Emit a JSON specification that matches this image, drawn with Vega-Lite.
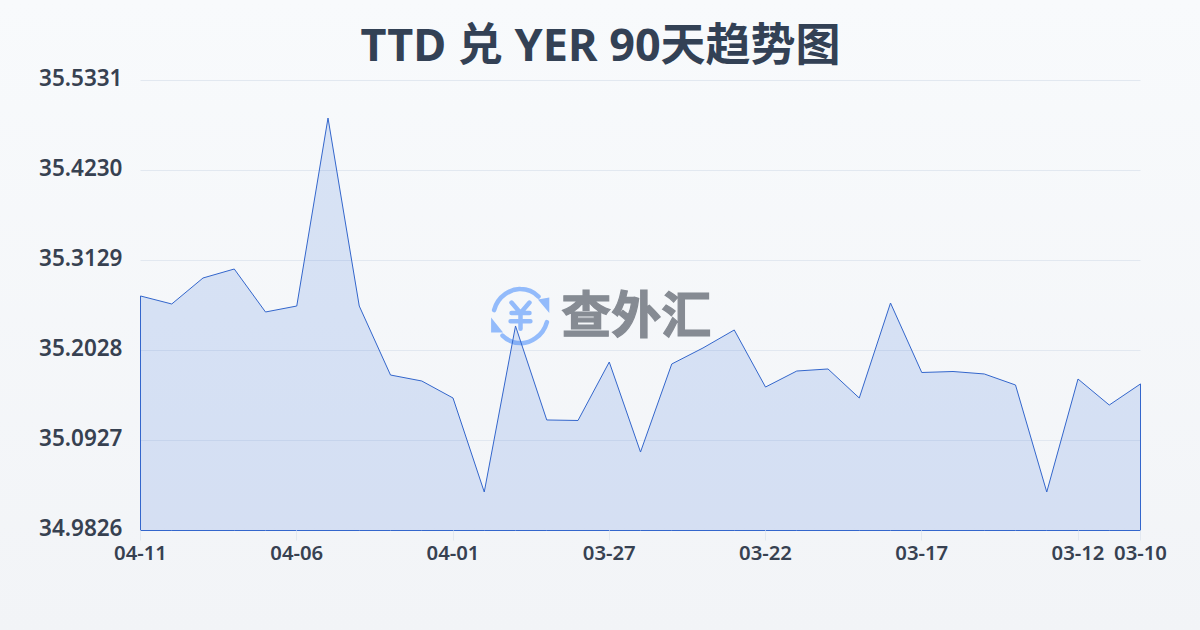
{
"$schema":"https://vega.github.io/schema/vega-lite/v6.json",
"width":1000,"height":450,
"autosize":{"type":"none"},
"padding":{"left":140.5,"top":80.5,"right":59.5,"bottom":99.5},
"background":"#f5f7fa",
"title":{"text":"TTD 兑 YER 90天趋势图","anchor":"middle","fontSize":45,"fontWeight":"bold","font":"Noto Sans, Noto Sans CJK SC","color":"#334155","offset":-404,"dx":-40},
"config":{"view":{"stroke":null},"axis":{"translate":0}},
"datasets":{"rates":[
{"date":"04-11","rate":35.2695},{"date":"04-10","rate":35.2597},{"date":"04-09","rate":35.2915},{"date":"04-08","rate":35.3025},{"date":"04-07","rate":35.2499},{"date":"04-06","rate":35.2572},{"date":"04-05","rate":35.4872},{"date":"04-04","rate":35.2572},{"date":"04-03","rate":35.1728},{"date":"04-02","rate":35.1655},{"date":"04-01","rate":35.1447},{"date":"03-31","rate":35.0297},{"date":"03-30","rate":35.2328},{"date":"03-29","rate":35.1178},{"date":"03-28","rate":35.1172},{"date":"03-27","rate":35.1887},{"date":"03-26","rate":35.0786},{"date":"03-25","rate":35.1863},{"date":"03-24","rate":35.2059},{"date":"03-23","rate":35.2279},{"date":"03-22","rate":35.1581},{"date":"03-21","rate":35.1777},{"date":"03-20","rate":35.1802},{"date":"03-19","rate":35.1447},{"date":"03-18","rate":35.2609},{"date":"03-17","rate":35.1759},{"date":"03-16","rate":35.1771},{"date":"03-15","rate":35.1741},{"date":"03-14","rate":35.1606},{"date":"03-13","rate":35.0297},{"date":"03-12","rate":35.1679},{"date":"03-11","rate":35.1361},{"date":"03-10","rate":35.1619}
],
"marks":[{"d":"03-27","v":35.2449,"t":"查外汇"}],
"logo":[{"d":"03-30","v":35.2449}],
"grid":[{"g":35.0927},{"g":35.2028},{"g":35.3129},{"g":35.423},{"g":35.5331},{"g":34.9826}]
},
"layer":[
{"data":{"name":"marks"},
 "mark":{"type":"point","shape":"square","filled":true,"opacity":1,"size":1690000,"xOffset":-9,"yOffset":0,"clip":false,
  "fill":{"gradient":"linear","x1":0,"y1":0,"x2":0,"y2":1,"stops":[{"offset":0.258,"color":"#f8fafc"},{"offset":0.742,"color":"#f2f4f7"}]}},
 "encoding":{"x":{"field":"d"},"y":{"field":"v"}}},
{"data":{"name":"grid"},"mark":{"type":"rule","stroke":"#e2e8f0","strokeWidth":1},"encoding":{"y":{"field":"g"}}},
{"data":{"name":"logo"},
 "mark":{"type":"point","filled":false,"stroke":"#93bbfb","strokeWidth":4.5,"strokeCap":"round","strokeJoin":"round","xOffset":5,"opacity":1,"size":3600,
 "shape":"M-0.88,-0.2 C-0.75,-0.68 -0.3,-0.92 0,-0.9 C0.25,-0.9 0.45,-0.8 0.6,-0.65 M0.88,0.2 C0.75,0.68 0.3,0.92 0,0.9 C-0.25,0.9 -0.45,0.8 -0.6,0.65 M-0.3,-0.45 L0,-0.1 L0.3,-0.45 M0,-0.1 L0,0.42 M-0.3,-0.1 L0.3,-0.1 M-0.33,0.17 L0.33,0.17"},
 "encoding":{"x":{"field":"d"},"y":{"field":"v"}}},
{"data":{"name":"logo"},
 "mark":{"type":"point","filled":true,"fill":"#93bbfb","opacity":1,"xOffset":5,"size":3600,
 "shape":"M0.58,-0.55 L0.96,-0.62 L0.96,-0.1 Z M-0.58,0.55 L-0.98,0.55 L-0.98,0.05 Z"},
 "encoding":{"x":{"field":"d"},"y":{"field":"v"}}},
{"data":{"name":"marks"},
 "mark":{"type":"text","font":"Noto Sans CJK SC","fontWeight":"bold","fontSize":50,"fill":"#868b93","stroke":"#868b93","strokeWidth":1.2,"dx":27,"dy":2,"align":"center","baseline":"middle"},
 "encoding":{"x":{"field":"d"},"y":{"field":"v"},"text":{"field":"t"}}},
{"data":{"name":"rates"},
 "mark":{"type":"area","fill":"#3b6fdc","fillOpacity":0.16,"stroke":"#3366cc","strokeWidth":1,"interpolate":"linear"},
 "encoding":{
  "x":{"field":"date"},"y":{"field":"rate"},"y2":{"datum":34.9826}}}
],
"encoding":{
"x":{"type":"ordinal","sort":null,"scale":{"type":"point","padding":0,"domain":["04-11","04-10","04-09","04-08","04-07","04-06","04-05","04-04","04-03","04-02","04-01","03-31","03-30","03-29","03-28","03-27","03-26","03-25","03-24","03-23","03-22","03-21","03-20","03-19","03-18","03-17","03-16","03-15","03-14","03-13","03-12","03-11","03-10"]},"title":null,
"axis":{"values":["04-11","04-06","04-01","03-27","03-22","03-17","03-12","03-10"],"zindex":1,"labelAngle":0,"labelOverlap":false,"labelFontSize":20.3,"labelFont":"Noto Sans","labelFontWeight":600,"labelColor":"#374151","labelPadding":3,"tickColor":"#e2e8f0","tickSize":10,"domain":false,"grid":false}},
"y":{"type":"quantitative","scale":{"domain":[34.9826,35.5331],"zero":false,"nice":false},"title":null,
"axis":{"values":[34.9826,35.0927,35.2028,35.3129,35.423,35.5331],"zindex":1,"format":".4f","labelFontSize":22.5,"labelFont":"Noto Sans","labelFontWeight":600,"labelColor":"#374151","labelPadding":18,"labelOffset":-2,"ticks":false,"domain":false,"grid":false}}
}
}
